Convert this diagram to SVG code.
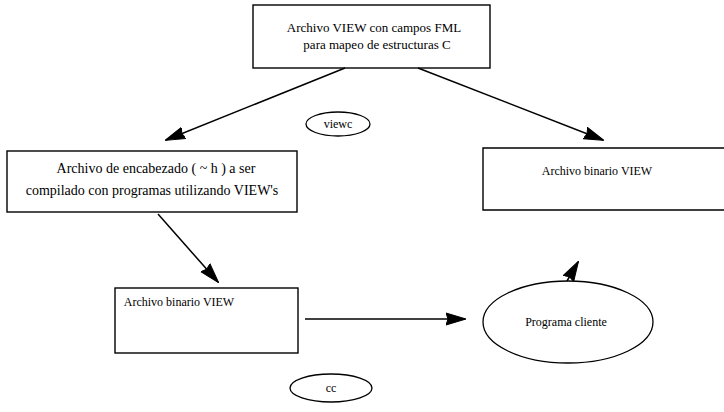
<svg xmlns="http://www.w3.org/2000/svg" width="724" height="412" viewBox="0 0 724 412">
  <style>
    .box { fill: #ffffff; stroke: #000000; stroke-width: 1.4; }
    .oval { fill: #ffffff; stroke: #000000; stroke-width: 1.3; }
    .lbl { font-family: "Liberation Serif", "Times New Roman", serif; fill: #000000; text-anchor: middle; }
    .big { font-size: 14px; }
    .mid { font-size: 13px; }
    .small { font-size: 12px; }
    .conn { stroke: #000000; stroke-width: 1.5; fill: none; marker-end: url(#head); }
  </style>
  <defs>
    <!-- solid arrowhead shared by all connectors -->
    <marker id="head" viewBox="0 0 20 14" refX="19" refY="7" markerWidth="20" markerHeight="14" markerUnits="userSpaceOnUse" orient="auto">
      <path d="M0 1 L20 7 L0 13 L2 7 Z" fill="#000000" stroke="#000000" stroke-width="1"/>
    </marker>
  </defs>
  <rect width="724" height="412" fill="#ffffff"/>

  <g id="vista-fml">
    <rect class="box" x="253" y="5" width="237" height="63"/>
    <text class="lbl mid" x="374" y="32">Archivo VIEW con campos FML</text>
    <text class="lbl mid" x="377" y="49">para mapeo de estructuras C</text>
  </g>

  <g id="viewc">
    <ellipse class="oval" cx="338" cy="124" rx="32" ry="12"/>
    <text class="lbl small" x="338" y="128">viewc</text>
  </g>

  <g id="encabezado">
    <rect class="box" x="7" y="151" width="290" height="61"/>
    <text class="lbl big" x="156" y="173">Archivo de encabezado ( ~ h ) a ser</text>
    <text class="lbl big" x="152" y="195">compilado con programas utilizando VIEW's</text>
  </g>

  <g id="binario-derecha">
    <path class="box" d="M724 148 H483 V210 H724"/>
    <text class="lbl small" x="597" y="175">Archivo binario VIEW</text>
  </g>

  <g id="binario-izquierda">
    <rect class="box" x="115" y="288" width="183" height="65"/>
    <text class="lbl small" x="179" y="306">Archivo binario VIEW</text>
  </g>

  <g id="programa-cliente">
    <ellipse class="oval" cx="568" cy="322" rx="85" ry="41"/>
    <text class="lbl small" x="566" y="326">Programa cliente</text>
  </g>

  <g id="cc">
    <ellipse class="oval" cx="331" cy="388" rx="41" ry="14"/>
    <text class="lbl small" x="331" y="392">cc</text>
  </g>

  <g id="conectores">
    <line class="conn" x1="345" y1="68" x2="166" y2="140"/>
    <line class="conn" x1="418" y1="68" x2="603" y2="140"/>
    <line class="conn" x1="158" y1="214" x2="218" y2="282"/>
    <line class="conn" x1="305" y1="319" x2="465" y2="319"/>
    <line class="conn" x1="567" y1="281" x2="578" y2="262"/>
  </g>
</svg>
